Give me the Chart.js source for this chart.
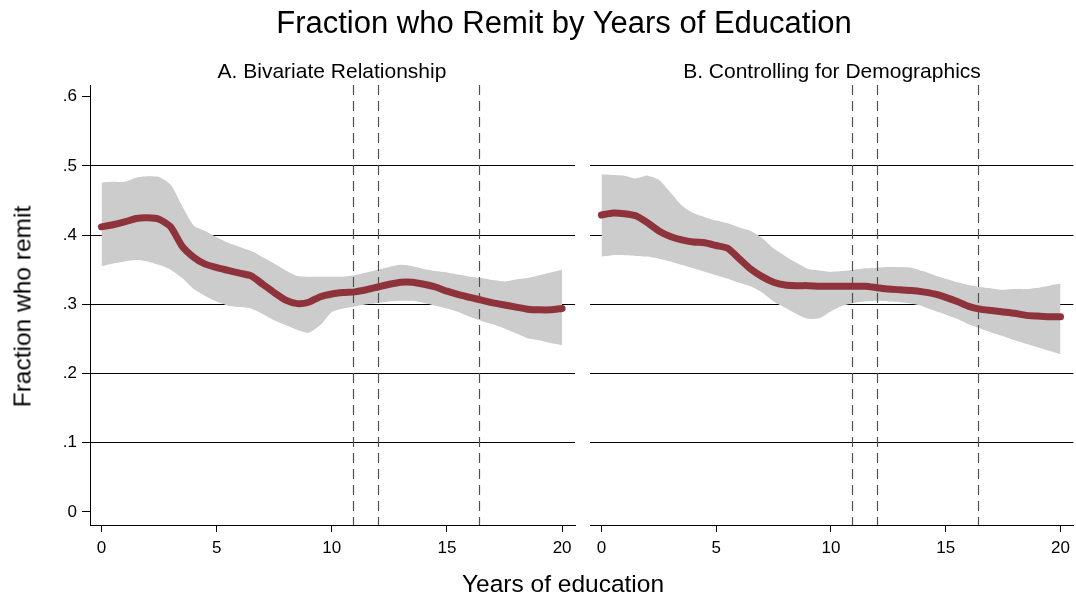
<!DOCTYPE html>
<html>
<head>
<meta charset="utf-8">
<script src="https://cdn.jsdelivr.net/npm/chart.js@4.4.1/dist/chart.umd.min.js"></script>
<style>
  html, body { margin: 0; padding: 0; background: #fff; }
  body { width: 1076px; height: 598px; position: relative; overflow: hidden;
         font-family: "Liberation Sans", Arial, sans-serif; color: #000; }
  .txt { position: absolute; white-space: nowrap; text-align: center; line-height: 1; }
  #left { position: absolute; left: 0; top: 0; }
  #right { position: absolute; left: 583px; top: 0; }
</style>
</head>
<body>
<canvas id="left" width="583" height="598"></canvas>
<canvas id="right" width="493" height="598"></canvas>

<div class="txt" style="left:164px; top:7px; width:800px; font-size:31px;">Fraction who Remit by Years of Education</div>
<div class="txt" style="left:132px; top:60px; width:400px; font-size:21px;">A. Bivariate Relationship</div>
<div class="txt" style="left:632px; top:60px; width:400px; font-size:21px;">B. Controlling for Demographics</div>
<div class="txt" style="left:363px; top:572px; width:400px; font-size:24.5px;">Years of education</div>
<div class="txt" style="left:-128px; top:294px; width:300px; height:25px; line-height:25px; font-size:24.5px; transform:rotate(-90deg);">Fraction who remit</div>

<script>
// years of schooling (x grid of the smoothed estimates)
const educ = [0, 0.5, 1, 1.5, 2, 2.5, 3, 3.5, 4, 4.5, 5, 5.5, 6, 6.5, 7, 7.5, 8, 8.5, 9, 9.5, 10,
              10.5, 11, 11.5, 12, 12.5, 13, 13.5, 14, 14.5, 15, 15.5, 16, 16.5, 17, 17.5, 18, 18.5, 19, 19.5, 20];

// A. bivariate
const bivFit = [.412, .415, .419, .424, .425, .423, .412, .384, .368, .358, .353, .349, .345, .341, .329, .317, .306, .301, .303, .311, .315,
                .317, .318, .321, .325, .329, .332, .332, .329, .325, .319, .314, .310, .306, .302, .299, .296, .293, .292, .292, .294];
const bivHi  = [.476, .477, .477, .483, .485, .484, .473, .442, .414, .406, .397, .389, .383, .377, .368, .359, .349, .341, .340, .340, .340,
                .340, .342, .346, .350, .354, .357, .355, .351, .348, .346, .343, .340, .338, .335, .333, .336, .338, .342, .346, .350];
const bivLo  = [.355, .359, .362, .364, .362, .357, .350, .338, .322, .312, .304, .298, .296, .294, .286, .277, .270, .263, .259, .270, .289,
                .294, .297, .300, .302, .304, .305, .305, .302, .298, .294, .289, .282, .276, .271, .265, .258, .251, .248, .244, .241];

// B. controlling for demographics
const demFit = [.429, .432, .431, .428, .418, .406, .398, .393, .390, .389, .385, .381, .366, .351, .340, .332, .328, .327, .327, .326, .326,
                .326, .326, .326, .324, .322, .321, .320, .318, .315, .310, .304, .297, .293, .291, .289, .287, .284, .283, .282, .282];
const demHi  = [.488, .487, .486, .482, .486, .480, .462, .443, .432, .426, .421, .417, .411, .406, .396, .381, .370, .360, .351, .349, .347,
                .348, .350, .352, .353, .354, .354, .353, .348, .342, .337, .332, .328, .325, .323, .321, .322, .322, .324, .327, .330];
const demLo  = [.369, .371, .371, .370, .369, .366, .362, .357, .352, .347, .342, .337, .331, .326, .317, .304, .295, .286, .279, .280, .290,
                .298, .302, .304, .305, .304, .303, .301, .297, .291, .285, .279, .271, .265, .259, .254, .248, .243, .238, .233, .228];

const cutoffs = [10.9, 12, 16.4];
const xTicks = [0, 5, 10, 15, 20];
const yTicks = [0, 0.1, 0.2, 0.3, 0.4, 0.5, 0.6];
const yTickLabels = ['0', '.1', '.2', '.3', '.4', '.5', '.6'];

const RED = '#8e333b';
const BAND = '#cccccc';
const tickFont = { family: '"Liberation Sans", Arial, sans-serif', size: 17 };

// dashed vertical reference lines, drawn over the band but under the fit
const cutoffLines = {
    id: 'cutoffLines',
    afterDatasetDraw(chart, args) {
        if (args.index !== 1) return;
        const { ctx, chartArea: a } = chart;
        const x = chart.scales.x;
        ctx.save();
        ctx.strokeStyle = '#505050';
        ctx.lineWidth = 1.2;
        ctx.setLineDash([10, 6]);
        cutoffs.forEach((v) => {
            const px = Math.round(x.getPixelForValue(v)) + 0.5;
            ctx.beginPath();
            ctx.moveTo(px, a.top);
            ctx.lineTo(px, a.bottom);
            ctx.stroke();
        });
        ctx.restore();
    },
};

function panel(id, fit, hi, lo, showY) {
    const pts = (ys) => educ.map((x, i) => ({ x, y: ys[i] }));
    return new Chart(document.getElementById(id), {
        type: 'line',
        data: {
            datasets: [
                { data: pts(fit), borderColor: RED, borderWidth: 7, borderCapStyle: 'round',
                  borderJoinStyle: 'round', pointRadius: 0, fill: false, tension: 0.2 },
                { data: pts(hi), borderColor: 'transparent', borderWidth: 0, pointRadius: 0,
                  fill: '+1', backgroundColor: BAND, tension: 0.2 },
                { data: pts(lo), borderColor: 'transparent', borderWidth: 0, pointRadius: 0,
                  fill: false, tension: 0.2 },
            ],
        },
        options: {
            responsive: false,
            animation: false,
            events: [],
            layout: { padding: { top: 85, right: showY ? 8 : 1, bottom: 0, left: 0 } },
            plugins: { legend: { display: false }, tooltip: { enabled: false } },
            scales: {
                x: {
                    type: 'linear',
                    min: -0.5,
                    max: 20.56,
                    afterBuildTicks: (s) => { s.ticks = xTicks.map((v) => ({ value: v })); },
                    afterFit: (s) => { s.height = 73; },
                    grid: { drawOnChartArea: false, drawTicks: true, tickLength: 7, color: '#000', lineWidth: 1 },
                    border: { display: true, color: '#000', width: 1 },
                    ticks: { font: tickFont, color: '#000', padding: 6, maxRotation: 0 },
                },
                y: {
                    min: -0.019,
                    max: 0.617,
                    afterBuildTicks: (s) => { s.ticks = yTicks.map((v) => ({ value: v })); },
                    afterFit: (s) => { s.width = showY ? 90 : 7; },
                    grid: {
                        color: (c) => (c.tick && (c.tick.value === 0 || c.tick.value === 0.6) ? 'rgba(0,0,0,0)' : '#000'),
                        tickColor: '#000',
                        lineWidth: 1,
                        drawTicks: showY,
                        tickLength: 8,
                    },
                    border: { display: showY, color: '#000', width: 1 },
                    ticks: {
                        display: showY,
                        font: tickFont,
                        color: '#000',
                        padding: 5,
                        callback: (v) => yTickLabels[yTicks.indexOf(v)],
                    },
                },
            },
        },
        plugins: [cutoffLines],
    });
}

panel('left', bivFit, bivHi, bivLo, true);
panel('right', demFit, demHi, demLo, false);
</script>
</body>
</html>
